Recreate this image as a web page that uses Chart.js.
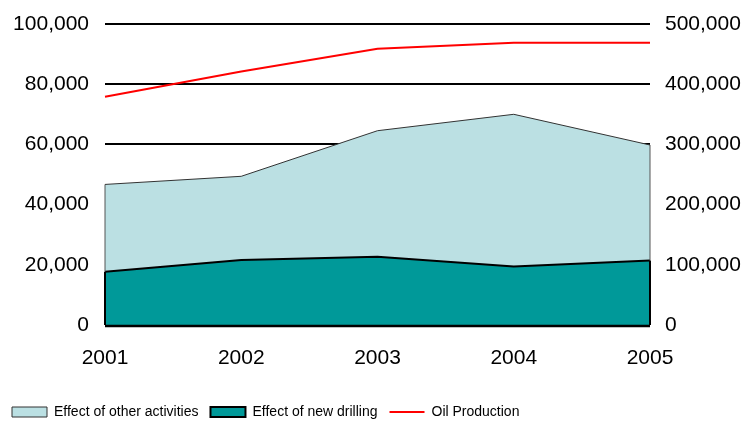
<!DOCTYPE html>
<html>
<head>
<meta charset="utf-8">
<script src="https://cdn.jsdelivr.net/npm/chart.js@4/dist/chart.umd.min.js"></script>
<style>
  html, body { margin:0; padding:0; background:#fff; }
  #wrap { width:747px; height:422px; }
</style>
</head>
<body>
<div id="wrap"><canvas id="chart"></canvas></div>
<script>
  // ---------- data ----------
  const years = ["2001", "2002", "2003", "2004", "2005"];
  const newDrilling = [17700, 21600, 22700, 19400, 21400];
  const otherActivities = [29000, 27800, 41850, 50600, 38400];
  const oilProduction = [379000, 421000, 459000, 469000, 469000];

  const leftTicks = [0, 20000, 40000, 60000, 80000, 100000];
  const rightTicks = [0, 100000, 200000, 300000, 400000, 500000];

  // legend shows other activities first, then drilling, then oil
  const legendOrder = [1, 0, 2];

  const fmt = v => v.toLocaleString("en-US");
  const tickFont = { family: "'Liberation Sans', Arial, sans-serif", size: 21 };

  // small edge lines on the sides of the filled areas, like the original
  const areaEdges = {
    id: "areaEdges",
    afterDatasetsDraw(chart){
      const ctx = chart.ctx;
      const y0 = chart.scales.y.getPixelForValue(0);
      ctx.save();
      [[0, "#000", 2], [1, "#555", 1]].forEach(([i, color, w])=>{
        const pts = chart.getDatasetMeta(i).data;
        const below = i === 0 ? null : chart.getDatasetMeta(i - 1).data;
        ctx.strokeStyle = color;
        ctx.lineWidth = w;
        [0, pts.length - 1].forEach(k=>{
          ctx.beginPath();
          ctx.moveTo(pts[k].x, pts[k].y);
          ctx.lineTo(pts[k].x, below ? below[k].y : y0);
          ctx.stroke();
        });
      });
      ctx.strokeStyle = "#000";
      ctx.lineWidth = 2.5;
      ctx.beginPath();
      ctx.moveTo(chart.chartArea.left, y0 + 1);
      ctx.lineTo(chart.chartArea.right, y0 + 1);
      ctx.stroke();
      ctx.restore();
    }
  };

  // y axes: fixed widths, no extra label overhang at the top
  const fitY = w => s => { s.width = w; s.paddingTop = 0; s.paddingBottom = 0; };

  new Chart(document.getElementById("chart"), {
    type: "line",
    data: {
      labels: years,
      datasets: [
        {
          label: "Effect of new drilling",
          data: newDrilling,
          yAxisID: "y",
          stack: "area",
          fill: "origin",
          backgroundColor: "#009999",
          borderColor: "#000",
          borderWidth: 2,
          pointRadius: 0,
          pointStyle: "rect",
          tension: 0
        },
        {
          label: "Effect of other activities",
          data: otherActivities,
          yAxisID: "y",
          stack: "area",
          fill: "-1",
          backgroundColor: "#BBE0E3",
          borderColor: "#333",
          borderWidth: 1,
          pointRadius: 0,
          pointStyle: "rect",
          tension: 0
        },
        {
          label: "Oil Production",
          data: oilProduction,
          yAxisID: "y1",
          fill: false,
          borderColor: "#FF0000",
          backgroundColor: "#FF0000",
          borderWidth: 2,
          pointRadius: 0,
          pointStyle: "line",
          tension: 0
        }
      ]
    },
    options: {
      responsive: true,
      maintainAspectRatio: false,
      animation: false,
      layout: { padding: { top: 24, left: 0, right: 0, bottom: -7 } },
      plugins: {
        tooltip: { enabled: false },
        legend: {
          position: "bottom",
          align: "start",
          labels: {
            usePointStyle: true,
            pointStyleWidth: 35,
            boxHeight: 10,
            padding: 12,
            color: "#000",
            font: { family: "'Liberation Sans', Arial, sans-serif", size: 14 },
            sort: (a, b) => legendOrder[a.datasetIndex] - legendOrder[b.datasetIndex]
          }
        }
      },
      scales: {
        x: {
          offset: false,
          grid: { display: false, drawTicks: false },
          border: { display: false },
          ticks: { color: "#000", font: tickFont, padding: 21, maxRotation: 0 },
          afterFit: s => { s.height = 68; }
        },
        y: {
          position: "left",
          stacked: true,
          min: 0,
          max: 100000,
          afterBuildTicks: s => { s.ticks = leftTicks.map(v => ({ value: v })); },
          grid: {
            color: c => c.tick.value === 0 ? "rgba(0,0,0,0)" : "#000",
            lineWidth: 2,
            drawTicks: false
          },
          border: { display: false },
          ticks: { color: "#000", font: tickFont, padding: 16, callback: v => fmt(v) },
          afterFit: fitY(105)
        },
        y1: {
          position: "right",
          min: 0,
          max: 500000,
          afterBuildTicks: s => { s.ticks = rightTicks.map(v => ({ value: v })); },
          grid: { display: false, drawTicks: false },
          border: { display: false },
          ticks: { color: "#000", font: tickFont, padding: 15, callback: v => fmt(v) },
          afterFit: fitY(97)
        }
      }
    },
    plugins: [areaEdges]
  });
</script>
</body>
</html>
